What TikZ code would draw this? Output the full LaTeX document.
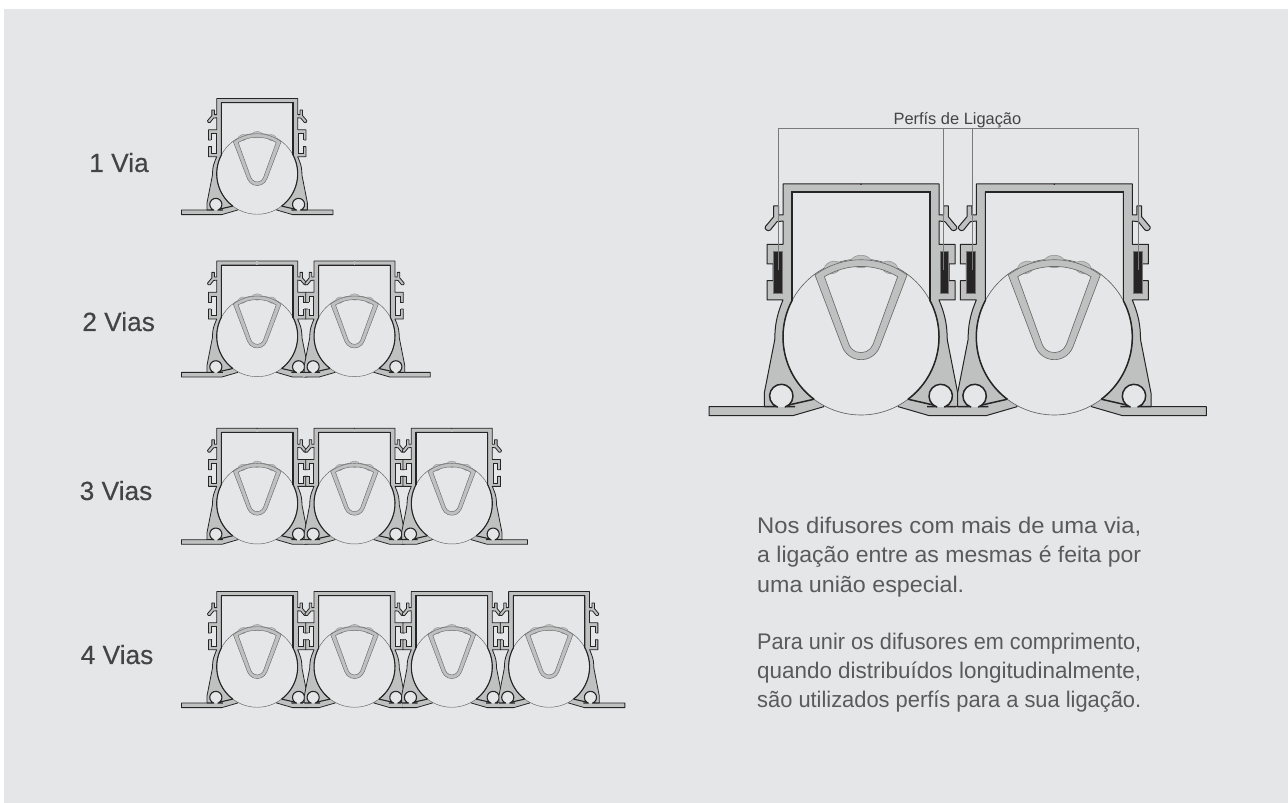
\documentclass[tikz,border=0pt]{standalone}
\usepackage{graphicx}
\usepackage{fontspec}
\setmainfont{Liberation Sans}
\definecolor{bgc}{HTML}{E5E6E8}
\definecolor{metal}{HTML}{BFC1C0}
\definecolor{inkc}{HTML}{262425}
\definecolor{leadc}{HTML}{7A7A7A}
\definecolor{labc}{HTML}{444444}
\definecolor{parc}{HTML}{5A5A5A}
\tikzset{
  profile/.style={fill=metal,draw=inkc,line width=\lwo,line join=round},
  wallline/.style={draw=inkc,line width=\lwi,line join=miter},
  rimline/.style={draw=inkc,line width=\lwi},
  thinrim/.style={fill=bgc,draw=black!62,line width=\lwt},
  vshape/.style={fill=metal,draw=black!58,line width=\lwt,even odd rule},
  bumpo/.style={fill=metal,draw=black!40,line width=\lwt},
  leader/.style={draw=leadc,line width=0.7pt},
  vialabel/.style={font=\fontsize{26.3}{30}\selectfont\addfontfeature{FakeBold=0.35},text=labc,inner sep=0pt,anchor=base},
  partext/.style={font=\fontsize{22.6}{29}\selectfont,text=parc,inner sep=0pt,anchor=base west},
}
\newcommand{\fitline}[2]{\resizebox{#1pt}{\height}{#2}}
\newcommand{\halfprof}[1]{%
  \path[profile] (69,{37-\dl}) -- (69,{145-\dy}) -- (0,{145-\dy}) -- (0,{153-\dy}) -- (78,{153-\dy})
    -- (78,{122-\dy}) -- (82.5,{122-\dy}) -- (82.5,{131-\dy}) -- (87.3,{131-\dy}) -- (87.3,{120.3-\dy})
    -- (95.7,{110.3-\dy}) .. controls (97,{108-\dy}) and (93,{105-\dy}) .. (90.7,{107-\dy})
    -- (84,{115.3-\dy}) -- (78,{116-\dy})
    -- (78,{92.7-\dy}) -- (94,{92.7-\dy}) -- (94,{73-\dy}) -- (88,{73-\dy}) -- (88,{56.3-\dl}) -- (94,{56.3-\dl})
    -- (94,{37-\dl}) -- (78,{37-\dl})
    .. controls (83,{25-\dl}) and (85.5,15) .. (86,4) -- (86.3,-3) -- (96.7,-56) -- (96.7,-69.7)
    -- (#1,-69.7) -- (#1,-78.7) -- (68.3,-78.7) -- (37.3,-69.7) -- (40,-30) -- cycle;
  \ifdim #1pt<100pt \fill[metal] (95,-78) rectangle (98.4,-70.5);\fi
  \holeshape
  % round channel, open through its neck
  \fill[bgc] (75.7,-70) arc[start angle=250,end angle=-70,radius=11.7] -- cycle;
  \draw[inkc,line width=\lwi,line join=round] (66,-69.7) -- (75.7,-69.7) -- (75.7,-70) arc[start angle=250,end angle=-70,radius=11.7] -- (83.7,-69.7) -- (96.7,-69.7);
}
\newcommand{\blackhole}{%
  \path[fill=inkc,draw=black!55,line width=0.6pt] (79,85.3) rectangle (87.7,43.7);
}
\newcommand{\openhole}{%
  \fill[bgc] (78.8,{85.3-\dy}) rectangle (88,{43.7-\dl});
  \fill[bgc] (87,{72.6-\dy}) rectangle (89.5,{56.7-\dl});
  \draw[inkc,line width=\lwt] (88,{73-\dy}) -- (88,{85.3-\dy}) -- (79,{85.3-\dy}) -- (79,{43.7-\dl}) -- (88,{43.7-\dl}) -- (88,{56.3-\dl});
}
\newcommand{\halfrim}{%
  \draw[rimline] (0,0) ++(28:78) arc[start angle=28,end angle=-53,radius=78];
  \draw[inkc,line width=\lwi] (47.3,-62.3) -- (72.3,-68);
}
% cx, cy, scale, left flange end, right flange end
\newcommand{\difusor}[5]{%
  \begin{scope}[shift={(#1,{803-#2})},x=#3pt,y=#3pt]
    \begin{scope}[xscale=-1]\halfprof{#4}\end{scope}
    \halfprof{#5}
    \fill[metal] (-1.5,{145-\dy}) rectangle (1.5,{152.2-\dy});
    \path[thinrim] (0,0) circle[radius=78];
    \path[bumpo] (0,75.5) ellipse[x radius=10,y radius=6.2];
    \path[bumpo,rotate around={-20:(28.5,69.5)}] (28.5,69.5) ellipse[x radius=8.5,y radius=6];
    \path[bumpo,rotate around={20:(-28.5,69.5)}] (-28.5,69.5) ellipse[x radius=8.5,y radius=6];
    \path[vshape] (-46,62) arc[start angle=126.6,end angle=53.4,radius=77.2] -- (18.7,-9.8)
        arc[start angle=339.2,end angle=200.8,radius=20] -- cycle
      (-36.6,60.3) arc[start angle=121.3,end angle=58.7,radius=70.5] -- (12.15,-7.3)
        arc[start angle=339.2,end angle=200.8,radius=13] -- cycle;
    \draw[wallline] (69,36) -- (69,{145-\dy}) -- (-69,{145-\dy}) -- (-69,36);
    \begin{scope}[xscale=-1]\halfrim\end{scope}
    \halfrim
  \end{scope}%
}
\begin{document}
\begin{tikzpicture}[x=1pt,y=1pt]
\useasboundingbox (0,0) rectangle (1288,803);
\fill[bgc] (4,0) rectangle (1288,794);

% small units
\def\dy{8}\def\dl{4}\def\lwo{0.8pt}\def\lwi{1.1pt}\def\lwt{0.45pt}
\let\holeshape\openhole
\def\sm{0.519}
\def\xa{257.2}\def\xb{354.5}\def\xc{451.8}\def\xd{549.1}
\difusor{\xa}{173.8}{\sm}{146}{146}

\difusor{\xa}{336.2}{\sm}{146}{96.7}
\difusor{\xb}{336.2}{\sm}{96.7}{146}

\difusor{\xa}{503.5}{\sm}{146}{96.7}
\difusor{\xb}{503.5}{\sm}{96.7}{96.7}
\difusor{\xc}{503.5}{\sm}{96.7}{146}

\difusor{\xa}{666.8}{\sm}{146}{96.7}
\difusor{\xb}{666.8}{\sm}{96.7}{96.7}
\difusor{\xc}{666.8}{\sm}{96.7}{96.7}
\difusor{\xd}{666.8}{\sm}{96.7}{146}

% large pair
\def\dy{0}\def\dl{0}\def\lwo{1pt}\def\lwi{1.5pt}\def\lwt{0.65pt}
\let\holeshape\blackhole
\difusor{861}{337}{1}{152}{96.7}
\difusor{1054.3}{337}{1}{96.7}{152}

% leaders
\coordinate (t1) at (778.3,{803-128.5});
\coordinate (t2) at (943.3,{803-128.5});
\coordinate (t3) at (972.7,{803-128.5});
\coordinate (t4) at (1138.3,{803-128.5});
\coordinate (e1) at (778.3,{803-270});
\coordinate (e2) at (943.3,{803-270});
\coordinate (e3) at (972.7,{803-270});
\coordinate (e4) at (1138.3,{803-270});
\draw[leader] (e1) -- (t1) -- (t4) -- (e4);
\draw[leader] (t2) -- (e2);
\draw[leader] (t3) -- (e3);

% texts
\node[font=\fontsize{16.4}{19}\selectfont,text=labc,inner sep=0pt,anchor=base] (perf) at (957.4,{803-124.3}) {Perfís de Ligação};
\node[vialabel] (v1) at (119,{803-172}) {1 Via};
\node[vialabel] (v2) at (118.6,{803-331}) {2 Vias};
\node[vialabel] (v3) at (116,{803-500}) {3 Vias};
\node[vialabel] (v4) at (117,{803-664}) {4 Vias};

\node[partext] (p1) at (757,{803-534}) {\fitline{384}{Nos difusores com mais de uma via,}};
\node[partext] (p2) at (757,{803-563}) {\fitline{384}{a ligação entre as mesmas é feita por}};
\node[partext] (p3) at (757,{803-592.5}) {\fitline{207}{uma união especial.}};
\node[partext] (p4) at (757,{803-650}) {\fitline{384}{Para unir os difusores em comprimento,}};
\node[partext] (p5) at (757,{803-678.5}) {\fitline{384}{quando distribuídos longitudinalmente,}};
\node[partext] (p6) at (757,{803-708}) {\fitline{384}{são utilizados perfís para a sua ligação.}};
\end{tikzpicture}
\end{document}
